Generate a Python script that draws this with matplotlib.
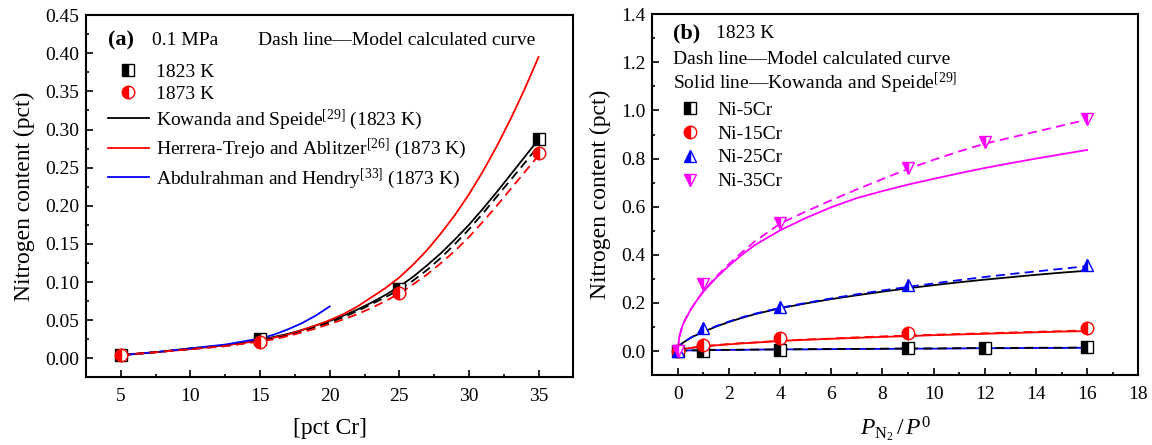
import matplotlib
matplotlib.use("Agg")
import matplotlib.pyplot as plt
from matplotlib.lines import Line2D
from matplotlib.ticker import MultipleLocator

plt.rcParams["font.family"] = ["Liberation Serif", "DejaVu Serif"]
plt.rcParams["mathtext.fontset"] = "custom"
plt.rcParams["mathtext.rm"] = "Liberation Serif"
plt.rcParams["mathtext.it"] = "Liberation Serif:italic"

# ---- (a) nitrogen vs Cr content at 0.1 MPa ----
cr_exp = [5, 15, 25, 35]
n_1823 = [0.004, 0.025, 0.091, 0.287]
n_1873 = [0.004, 0.022, 0.085, 0.269]

cr_curve = [5, 7.5, 10, 12.5, 15, 16, 17, 18, 19, 20, 21, 22, 23, 24, 25,
            26, 27, 28, 29, 30, 31, 32, 33, 34, 35]
kowanda_1823 = [0.0045, 0.008, 0.013, 0.017, 0.024, 0.028, 0.032, 0.037, 0.043, 0.049,
                0.056, 0.064, 0.073, 0.083, 0.094, 0.107, 0.122, 0.138, 0.156, 0.175,
                0.196, 0.218, 0.241, 0.264, 0.287]
herrera_1873 = [0.004, 0.008, 0.012, 0.017, 0.023, 0.027, 0.031, 0.037, 0.043, 0.050,
                0.058, 0.068, 0.080, 0.092, 0.106, 0.123, 0.142, 0.164, 0.188, 0.215,
                0.245, 0.278, 0.314, 0.353, 0.395]
model_1823 = [0.004, 0.008, 0.012, 0.016, 0.023, 0.026, 0.030, 0.035, 0.041, 0.047,
              0.054, 0.062, 0.071, 0.080, 0.090, 0.102, 0.116, 0.132, 0.150, 0.169,
              0.190, 0.212, 0.234, 0.256, 0.279]
model_1873 = [0.004, 0.008, 0.012, 0.016, 0.022, 0.025, 0.029, 0.034, 0.039, 0.045,
              0.051, 0.058, 0.066, 0.075, 0.085, 0.097, 0.110, 0.125, 0.141, 0.159,
              0.179, 0.200, 0.222, 0.244, 0.266]

cr_abdul = [5, 7.5, 10, 12.5, 15, 16, 17, 18, 19, 20]
abdul_1873 = [0.004, 0.008, 0.013, 0.018, 0.026, 0.031, 0.038, 0.046, 0.056, 0.068]

# ---- (b) nitrogen vs pressure ratio at 1823 K ----
p_exp = [0, 1, 4, 9, 12, 16]
ni5_exp = [0.0, 0.002, 0.004, 0.011, 0.011, 0.015]
ni15_exp = [0.0, 0.025, 0.053, 0.074, None, 0.097]
ni25_exp = [0.0, 0.094, 0.184, 0.274, None, 0.357]
ni35_exp = [0.0, 0.279, 0.534, 0.760, 0.868, 0.965]

p_curve = [0, 0.05, 0.15, 0.25, 0.5, 0.75, 1, 1.5, 2, 2.5, 3, 4, 5, 6, 7, 8, 9,
           10, 11, 12, 13, 14, 15, 16]
# solid lines, Kowanda and Speide
ni5_kow = [0, 0.001, 0.001, 0.002, 0.003, 0.003, 0.004, 0.004, 0.005, 0.005, 0.006, 0.007,
           0.007, 0.008, 0.009, 0.009, 0.010, 0.010, 0.011, 0.012, 0.012, 0.013, 0.013, 0.014]
ni15_kow = [0, 0.004, 0.007, 0.009, 0.013, 0.016, 0.019, 0.024, 0.028, 0.032, 0.035, 0.042,
            0.047, 0.051, 0.055, 0.059, 0.062, 0.066, 0.069, 0.072, 0.075, 0.078, 0.081, 0.083]
ni25_kow = [0, 0.018, 0.031, 0.038, 0.055, 0.068, 0.080, 0.102, 0.121, 0.138, 0.153, 0.178,
            0.198, 0.216, 0.232, 0.247, 0.261, 0.274, 0.286, 0.297, 0.307, 0.317, 0.326, 0.334]
ni35_kow = [0, 0.055, 0.095, 0.123, 0.172, 0.212, 0.247, 0.305, 0.355, 0.400, 0.440, 0.502,
            0.553, 0.598, 0.636, 0.665, 0.692, 0.716, 0.739, 0.761, 0.781, 0.800, 0.818, 0.836]
# dashed lines, model
ni5_mod = [0, 0.001, 0.001, 0.002, 0.003, 0.003, 0.004, 0.005, 0.005, 0.006, 0.006, 0.007,
           0.008, 0.009, 0.009, 0.010, 0.011, 0.011, 0.012, 0.013, 0.013, 0.014, 0.014, 0.015]
ni15_mod = [0, 0.004, 0.007, 0.009, 0.013, 0.017, 0.020, 0.025, 0.029, 0.033, 0.036, 0.043,
            0.048, 0.052, 0.057, 0.061, 0.064, 0.068, 0.071, 0.074, 0.077, 0.080, 0.083, 0.086]
ni25_mod = [0, 0.018, 0.031, 0.038, 0.056, 0.069, 0.082, 0.104, 0.123, 0.140, 0.155, 0.180,
            0.200, 0.219, 0.236, 0.252, 0.267, 0.281, 0.295, 0.308, 0.320, 0.331, 0.342, 0.353]
ni35_mod = [0, 0.055, 0.095, 0.123, 0.172, 0.213, 0.250, 0.310, 0.362, 0.410, 0.455, 0.530,
            0.580, 0.627, 0.672, 0.715, 0.757, 0.795, 0.830, 0.862, 0.887, 0.912, 0.937, 0.962]

LW = 1.3
DASH = (0, (5, 3))
MS = 9


def half_marker(ax, x, y, marker, color, label=None):
    pts = [(a, b) for a, b in zip(x, y) if b is not None]
    xs = [p[0] for p in pts]
    ys = [p[1] for p in pts]
    return ax.plot(xs, ys, linestyle="none", marker=marker, markersize=MS,
                   fillstyle="left", markerfacecolor=color,
                   markerfacecoloralt="white", markeredgecolor=color,
                   markeredgewidth=1.0, label=label, zorder=5)[0]


def style_axes(ax):
    for s in ax.spines.values():
        s.set_linewidth(1.5)
    ax.tick_params(which="both", direction="in", top=False, right=False,
                   labelsize=14, width=1.2)
    ax.tick_params(which="major", length=5, pad=5)
    ax.tick_params(which="minor", length=2.5)
    ax.tick_params(axis="x", which="major", pad=8)


fig = plt.figure(figsize=(11.52, 4.45), dpi=100)
ax1 = fig.add_axes([0.0747, 0.152, 0.4230, 0.814])
ax2 = fig.add_axes([0.5662, 0.157, 0.4219, 0.811])

# panel (a)
ax1.plot(cr_curve, kowanda_1823, color="black", lw=LW)
ax1.plot(cr_curve, herrera_1873, color="red", lw=LW)
ax1.plot(cr_abdul, abdul_1873, color="blue", lw=LW)
ax1.plot(cr_curve, model_1823, color="black", lw=LW, linestyle=DASH)
ax1.plot(cr_curve, model_1873, color="red", lw=LW, linestyle=DASH)
h_sq = half_marker(ax1, cr_exp, n_1823, "s", "black")
h_ci = half_marker(ax1, cr_exp, n_1873, "o", "red")

ax1.set_xlim(2.5, 37.5)
ax1.set_ylim(-0.025, 0.45)
ax1.xaxis.set_major_locator(MultipleLocator(5))
ax1.xaxis.set_minor_locator(MultipleLocator(2.5))
ax1.yaxis.set_major_locator(MultipleLocator(0.05))
ax1.yaxis.set_minor_locator(MultipleLocator(0.025))
ax1.yaxis.set_major_formatter(lambda v, pos: f"{v:.2f}")
style_axes(ax1)
ax1.set_xlabel("[pct Cr]", fontsize=17, labelpad=9)
ax1.set_ylabel("Nitrogen content (pct)", fontsize=17, labelpad=7)

ax1.text(0.045, 0.931, "(a)", transform=ax1.transAxes, fontsize=16,
         fontweight="bold", va="center", ha="left")
ax1.text(0.135, 0.931, "0.1 MPa", transform=ax1.transAxes, fontsize=14,
         va="center", ha="left")
ax1.text(0.921, 0.931, "Dash line\u2014Model calculated curve",
         transform=ax1.transAxes, fontsize=14, va="center", ha="right")

handles_a = [
    h_sq, h_ci,
    Line2D([], [], color="black", lw=LW),
    Line2D([], [], color="red", lw=LW),
    Line2D([], [], color="blue", lw=LW),
]
labels_a = [
    "1823 K", "1873 K",
    r"Kowanda and Speide$^{[29]}$ (1823 K)",
    r"Herrera-Trejo and Ablitzer$^{[26]}$ (1873 K)",
    r"Abdulrahman and Hendry$^{[33]}$ (1873 K)",
]
ax1.legend(handles_a, labels_a, loc="upper left", bbox_to_anchor=(0.045, 0.868),
           frameon=False, fontsize=14, handlelength=2.1, handletextpad=0.35,
           labelspacing=0.25, borderpad=0, borderaxespad=0)

# panel (b)
ax2.plot(p_curve, ni35_kow, color="magenta", lw=LW)
ax2.plot(p_curve, ni25_kow, color="black", lw=LW)
ax2.plot(p_curve, ni15_kow, color="red", lw=LW)
ax2.plot(p_curve, ni5_kow, color="blue", lw=LW)
ax2.plot(p_curve, ni35_mod, color="magenta", lw=LW, linestyle=DASH)
ax2.plot(p_curve, ni25_mod, color="blue", lw=LW, linestyle=DASH)
ax2.plot(p_curve, ni15_mod, color="red", lw=LW, linestyle=DASH)
ax2.plot(p_curve, ni5_mod, color="black", lw=LW, linestyle=DASH)
hb = [
    half_marker(ax2, p_exp, ni5_exp, "s", "black", "Ni-5Cr"),
    half_marker(ax2, p_exp, ni15_exp, "o", "red", "Ni-15Cr"),
    half_marker(ax2, p_exp, ni25_exp, "^", "blue", "Ni-25Cr"),
    half_marker(ax2, p_exp, ni35_exp, "v", "magenta", "Ni-35Cr"),
]

ax2.set_xlim(-1, 18)
ax2.set_ylim(-0.1, 1.4)
ax2.xaxis.set_major_locator(MultipleLocator(2))
ax2.xaxis.set_minor_locator(MultipleLocator(1))
ax2.yaxis.set_major_locator(MultipleLocator(0.2))
ax2.yaxis.set_minor_locator(MultipleLocator(0.1))
ax2.yaxis.set_major_formatter(lambda v, pos: f"{v:.1f}")
style_axes(ax2)
ax2.set_xlabel(r"$P_{\mathrm{N}_2}\,/\,P^{0}$", fontsize=17, labelpad=8)
ax2.set_ylabel("Nitrogen content (pct)", fontsize=17, labelpad=7)

ax2.text(0.043, 0.947, "(b)", transform=ax2.transAxes, fontsize=16,
         fontweight="bold", va="center", ha="left")
ax2.text(0.131, 0.947, "1823 K", transform=ax2.transAxes, fontsize=14,
         va="center", ha="left")
ax2.text(0.043, 0.875, "Dash line\u2014Model calculated curve",
         transform=ax2.transAxes, fontsize=14, va="center", ha="left")
ax2.text(0.043, 0.809, "Solid line\u2014Kowanda and Speide$^{[29]}$",
         transform=ax2.transAxes, fontsize=14, va="center", ha="left")
ax2.legend(handles=hb, loc="upper left", bbox_to_anchor=(0.053, 0.759),
           frameon=False, fontsize=14, handlelength=1.2, handletextpad=0.8,
           labelspacing=0.32, borderpad=0, borderaxespad=0)

fig.savefig("out.png", dpi=100)
